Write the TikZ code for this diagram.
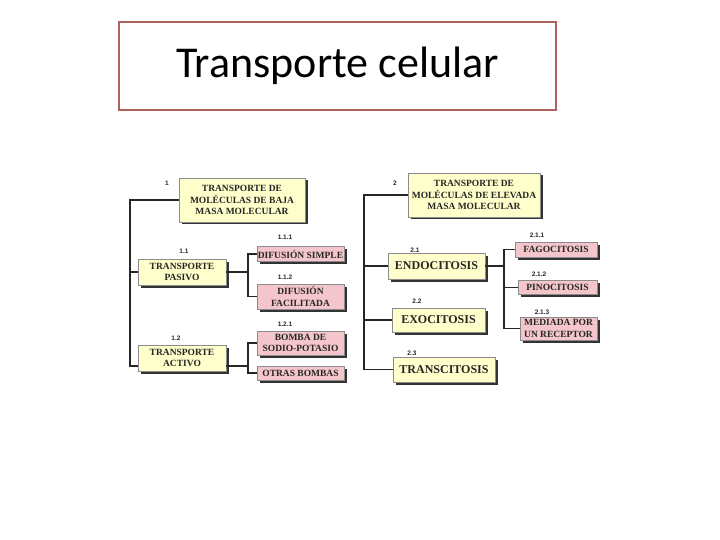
\documentclass[tikz,border=0pt]{standalone}
\usepackage{fontspec}
\setmainfont{Liberation Serif}
\newfontfamily\titlefont{Carlito}
\newfontfamily\numfont{Liberation Sans}
\usetikzlibrary{shadows}
\definecolor{titlered}{HTML}{B0605E}
\definecolor{boxyel}{HTML}{FFFFCC}
\definecolor{boxpink}{HTML}{F4C6CB}
\definecolor{ink}{HTML}{262626}
\tikzset{box/.style={draw=black!45,line width=.4pt,text=ink,inner sep=0pt,align=center,font=\bfseries\fontsize{9.5}{11.5}\selectfont,drop shadow={shadow xshift=2.5pt,shadow yshift=-2.5pt,fill=black!80,opacity=1}},
yel/.style={box,fill=boxyel},pink/.style={box,fill=boxpink},big/.style={font=\bfseries\fontsize{12}{14}\selectfont},
num/.style={font=\numfont\bfseries\fontsize{6.5}{7}\selectfont,text=ink,inner sep=0pt},edge/.style={line width=1.1pt,black!85}}
\begin{document}
\begin{tikzpicture}[x=1pt,y=-1pt]
\useasboundingbox (0,0) rectangle (720,540);
\node[draw=titlered,line width=2.5pt,minimum width=437pt,minimum height=88pt,font=\titlefont\fontsize{44}{48}\selectfont] (title) at (337.5,66) {Transporte celular};
% left tree
\node[yel,minimum width=126pt,minimum height=44pt] (b1) at (242,200) {TRANSPORTE DE\\MOLÉCULAS DE BAJA\\MASA MOLECULAR};
\node[yel,minimum width=88pt,minimum height=26pt] (p1) at (182,272) {TRANSPORTE\\PASIVO};
\node[yel,minimum width=88pt,minimum height=26pt] (a1) at (182,358) {TRANSPORTE\\ACTIVO};
\node[pink,minimum width=87pt,minimum height=15pt] (ds) at (300.5,254) {DIFUSIÓN SIMPLE};
\node[pink,minimum width=87pt,minimum height=25pt] (df) at (300.5,296.5) {DIFUSIÓN\\FACILITADA};
\node[pink,minimum width=87pt,minimum height=24pt] (bs) at (300.5,343) {BOMBA DE\\SODIO-POTASIO};
\node[pink,minimum width=87pt,minimum height=14pt] (ob) at (300.5,373) {OTRAS BOMBAS};
% right tree
\node[yel,minimum width=132pt,minimum height=44pt] (b2) at (474,195) {TRANSPORTE DE\\MOLÉCULAS DE ELEVADA\\MASA MOLECULAR};
\node[yel,big,minimum width=97pt,minimum height=26pt] (en) at (436.5,266) {ENDOCITOSIS};
\node[yel,big,minimum width=93pt,minimum height=24pt] (ex) at (438.5,320) {EXOCITOSIS};
\node[yel,big,minimum width=102pt,minimum height=25pt] (tr) at (444,369.5) {TRANSCITOSIS};
\node[pink,minimum width=82pt,minimum height=15pt] (fa) at (556,249.5) {FAGOCITOSIS};
\node[pink,minimum width=79pt,minimum height=14pt] (pi) at (557.5,287.5) {PINOCITOSIS};
\node[pink,minimum width=77pt,minimum height=23pt] (me) at (558.5,328.5) {MEDIADA POR\\UN RECEPTOR};
% numbers
\foreach \n/\x/\y/\t in {n1/167/183/1,n11/184/251/1.1,n12/176/338/1.2,n111/285/237/1.1.1,n112/285/277/1.1.2,n121/285/324/1.2.1,n2/395/183/2,n21/415/250/2.1,n22/417/301/2.2,n23/412/353/2.3,n211/537/235/2.1.1,n212/539/274/2.1.2,n213/542/312/2.1.3}{\node[num] (\n) at (\x,\y) {\t};}
% connectors
\coordinate (j1) at (130,366);\coordinate (k1) at (248,272);\coordinate (k2) at (248,366);
\coordinate (j2) at (364,369.5);\coordinate (k3) at (504,266);
\draw[edge] (b1.west)-|(j1)--(j1-|a1.west);\draw[edge] (j1|-p1.west)--(p1.west);
\draw[edge] (p1.east)--(k1);\draw[edge] (ds.west)-|(k1)|-(df.west);
\draw[edge] ([yshift=-8pt]a1.east)--(k2);\draw[edge] (bs.west)-|(k2)|-(ob.west);
\draw[edge] (b2.west)-|(j2)--(tr.west);\draw[edge] (j2|-en.west)--(en.west);\draw[edge] (j2|-ex.west)--(ex.west);
\draw[edge] (en.east)--(k3);\draw[edge] (fa.west)-|(k3)|-(me.west);\draw[edge] (k3|-pi.west)--(pi.west);
\end{tikzpicture}
\end{document}
